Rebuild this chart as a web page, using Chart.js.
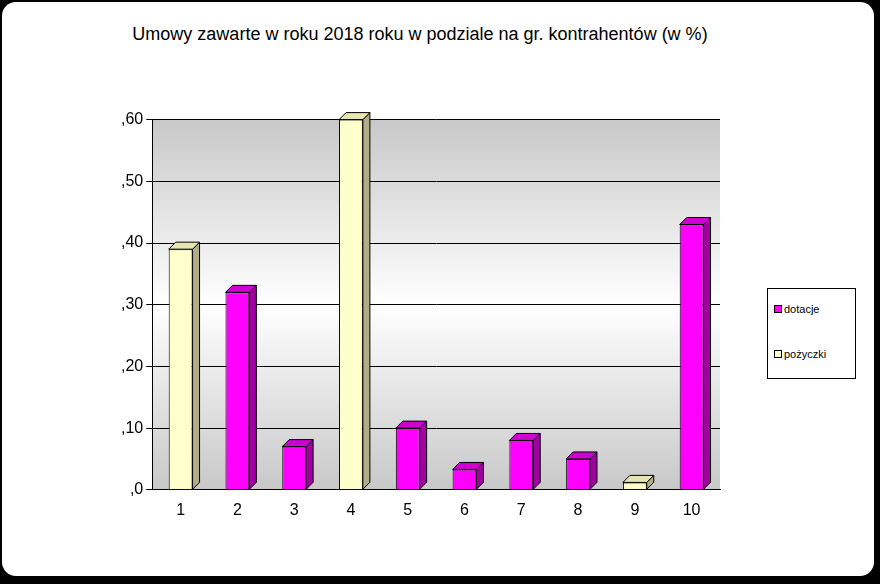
<!DOCTYPE html>
<html>
<head>
<meta charset="utf-8">
<script src="https://cdn.jsdelivr.net/npm/chart.js@4/dist/chart.umd.min.js"></script>
<style>
  body { margin: 0; background: #000; width: 880px; height: 584px; overflow: hidden; font-family: "Liberation Sans", Arial, sans-serif; }
  #frame { position: absolute; left: 2px; top: 2px; width: 872px; height: 574px; background: #fff; border-radius: 14px; }
  #title { position: absolute; left: 0; width: 840px; top: 24px; text-align: center; font-size: 18px; color: #000; }
  #wrap { position: absolute; left: 118px; top: 107px; width: 612px; height: 416px; }
  #legend { position: absolute; left: 767px; top: 288px; width: 87px; height: 89px; border: 1px solid #000; font-size: 11px; }
  .item { position: absolute; left: 6px; }
  .sw { display: inline-block; width: 6px; height: 6px; border: 1px solid #000; margin-right: 2px; vertical-align: 0; }
</style>
</head>
<body>
<div id="frame"></div>
<div id="title">Umowy zawarte w roku 2018 roku w podziale na gr. kontrahentów (w %)</div>
<div id="wrap"><canvas id="chart"></canvas></div>
<div id="legend">
  <div class="item" style="top:14px"><span class="sw" style="background:#ff00ff"></span>dotacje</div>
  <div class="item" style="top:59px"><span class="sw" style="background:#ffffcc"></span>pożyczki</div>
</div>
<script>
// dane
const categories = ['1', '2', '3', '4', '5', '6', '7', '8', '9', '10'];
const dotacje = [null, 0.32, 0.07, null, 0.10, 0.033, 0.08, 0.05, null, 0.43];
const pozyczki = [0.39, null, null, 0.60, null, null, null, null, 0.012, null];

// tło obszaru wykresu + efekt 3D słupków
const threeD = {
  id: 'threeD',
  beforeDraw(chart) {
    const {ctx, chartArea: a} = chart;
    const g = ctx.createLinearGradient(0, a.top, 0, a.bottom);
    g.addColorStop(0, '#c8c8c8');
    g.addColorStop(0.5, '#ffffff');
    g.addColorStop(1, '#c8c8c8');
    ctx.save();
    ctx.fillStyle = g;
    ctx.fillRect(a.left, a.top, a.right - a.left, a.bottom - a.top);
    ctx.restore();
  },
  afterDatasetsDraw(chart) {
    const ctx = chart.ctx, d = 7;
    const sides = ['#a000a0', '#b0ad88'], tops = ['#d000d0', '#e6e6b0'];
    chart.data.datasets.forEach((ds, i) => {
      chart.getDatasetMeta(i).data.forEach((bar, j) => {
        if (ds.data[j] == null) return;
        const l = bar.x - bar.width / 2, r = bar.x + bar.width / 2, t = bar.y, b = bar.base;
        ctx.save();
        ctx.strokeStyle = '#000'; ctx.lineWidth = 1;
        ctx.fillStyle = sides[i];
        ctx.beginPath(); ctx.moveTo(r, t); ctx.lineTo(r + d, t - d); ctx.lineTo(r + d, b - d); ctx.lineTo(r, b); ctx.closePath(); ctx.fill(); ctx.stroke();
        ctx.fillStyle = tops[i];
        ctx.beginPath(); ctx.moveTo(l, t); ctx.lineTo(l + d, t - d); ctx.lineTo(r + d, t - d); ctx.lineTo(r, t); ctx.closePath(); ctx.fill(); ctx.stroke();
        ctx.restore();
      });
    });
  }
};

new Chart(document.getElementById('chart').getContext('2d'), {
  type: 'bar',
  data: {
    labels: categories,
    datasets: [
      { label: 'dotacje', data: dotacje, backgroundColor: '#ff00ff', borderColor: '#000', borderWidth: 1 },
      { label: 'pożyczki', data: pozyczki, backgroundColor: '#ffffcc', borderColor: '#000', borderWidth: 1 }
    ]
  },
  options: {
    responsive: true, maintainAspectRatio: false, animation: false,
    layout: { padding: { top: 12, right: 10 } },
    plugins: { legend: { display: false }, tooltip: { enabled: false } },
    datasets: { bar: { barPercentage: 0.42, categoryPercentage: 1 } },
    scales: {
      x: {
        stacked: true,
        grid: { display: false },
        border: { color: '#000' },
        ticks: { color: '#000', font: { family: 'Liberation Sans', size: 16 } }
      },
      y: {
        stacked: true, min: 0, max: 0.6,
        grid: { color: '#000', drawTicks: true, tickLength: 6 },
        border: { color: '#000' },
        ticks: {
          stepSize: 0.1, color: '#000', font: { family: 'Liberation Sans', size: 16 },
          callback: v => ',' + Math.round(v * 100)
        }
      }
    }
  },
  plugins: [threeD]
});
</script>
</body>
</html>
